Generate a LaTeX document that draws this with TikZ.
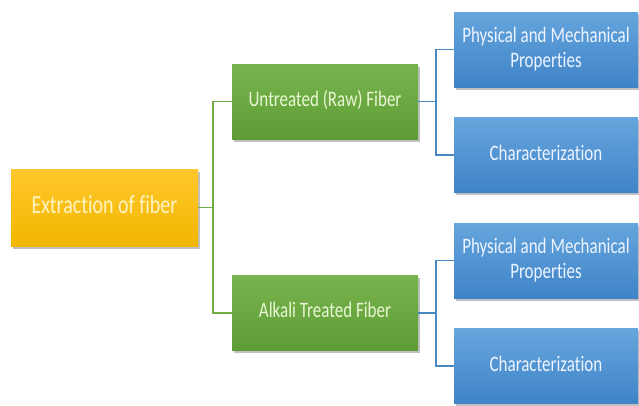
\documentclass[tikz,border=0pt]{standalone}
\usepackage{fontspec}
\setmainfont[Ligatures={NoCommon}]{Carlito}
\usepackage{graphicx}
\usetikzlibrary{shadows}
\definecolor{ylwtop}{HTML}{FFC72C}
\definecolor{ylwbot}{HTML}{F2B700}
\definecolor{grntop}{HTML}{78B54E}
\definecolor{grnbot}{HTML}{5E9C35}
\definecolor{blutop}{HTML}{66A5DD}
\definecolor{blubot}{HTML}{3F84C8}
\definecolor{grnline}{HTML}{70AD47}
\definecolor{bluline}{HTML}{4A88C4}
\definecolor{ylwtext}{HTML}{FFF4C4}
\definecolor{grntext}{HTML}{EAF7D4}
\definecolor{blutext}{HTML}{EEF4FF}
\newcommand{\stretchtxt}[1]{\scalebox{1}[1.3]{\begin{tabular}{@{}c@{}}#1\end{tabular}}}
\tikzset{
  x=1pt, y=-1pt,
  boxbase/.style={rectangle, inner sep=0pt, anchor=center,
    drop shadow={shadow xshift=1.5pt, shadow yshift=-2.5pt, opacity=0.35, fill=black!70}},
  ylwbox/.style={boxbase, top color=ylwtop, bottom color=ylwbot,
    minimum width=187pt, minimum height=77pt, text=ylwtext,
    font=\fontsize{20}{22}\selectfont},
  grnbox/.style={boxbase, top color=grntop, bottom color=grnbot,
    minimum width=186pt, minimum height=75pt, text=grntext,
    font=\fontsize{17}{18}\selectfont},
  blubox/.style={boxbase, top color=blutop, bottom color=blubot,
    minimum width=184pt, minimum height=75pt, text=blutext,
    font=\fontsize{17}{20}\selectfont},
  grnconn/.style={draw=grnline, line width=1.2pt},
  bluconn/.style={draw=bluline, line width=1.2pt}
}
\begin{document}
\begin{tikzpicture}
\useasboundingbox (0,0) rectangle (639,405);
\fill[white] (0,0) rectangle (639,405);
\begin{scope}
\clip (0,0) rectangle (639,405);
\node[ylwbox] (ext) at (104.5,207.5) {\stretchtxt{Extraction of fiber}};
\node[grnbox] (raw) at (325,101.5) {\stretchtxt{Untreated (Raw) Fiber}};
\node[grnbox] (alk) at (325,313) {\stretchtxt{Alkali Treated Fiber}};
\node[blubox] (p1) at (546,49.5) {\stretchtxt{Physical and Mechanical\\[-1pt]Properties}};
\node[blubox] (c1) at (546,155) {\stretchtxt{Characterization}};
\node[blubox] (p2) at (546,260.5) {\stretchtxt{Physical and Mechanical\\[-1pt]Properties}};
\node[blubox] (c2) at (546,366) {\stretchtxt{Characterization}};
\coordinate (j1) at (213,207.5);
\coordinate (j2) at (436,101.5);
\coordinate (j3) at (436,313);
\draw[grnconn] (ext.east) -- (j1) |- (raw.west);
\draw[grnconn] (j1) |- (alk.west);
\draw[bluconn] (raw.east) -- (j2) |- (p1.west);
\draw[bluconn] (j2) |- (c1.west);
\draw[bluconn] (alk.east) -- (j3) |- (p2.west);
\draw[bluconn] (j3) |- (c2.west);
\end{scope}
\end{tikzpicture}
\end{document}
